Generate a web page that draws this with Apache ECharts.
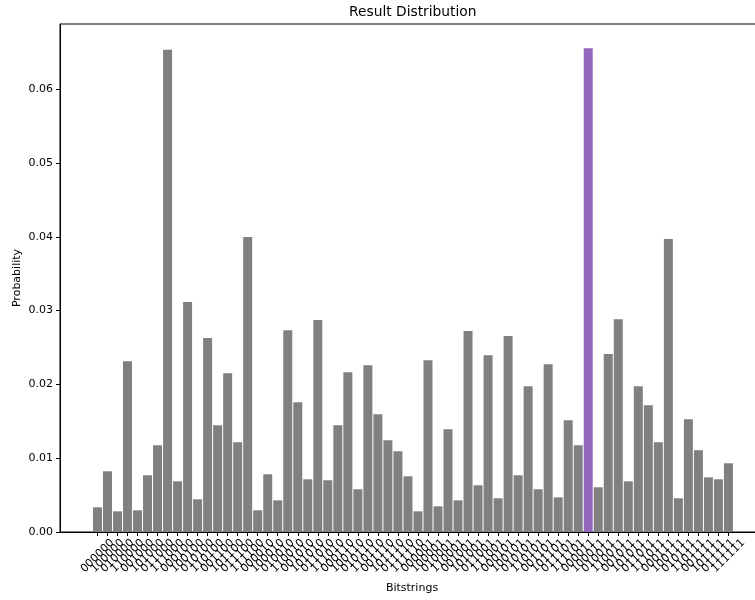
<!DOCTYPE html>
<html>
<head>
<meta charset="utf-8">
<script src="https://cdn.jsdelivr.net/npm/echarts@6/dist/echarts.min.js"></script>
<style>
  html, body { margin: 0; padding: 0; background: #fff; }
  #chart { width: 755px; height: 600px; }
</style>
</head>
<body>
<div id="chart"></div>
<script>
// Measured outcomes, listed in little-endian bitstring order
const bitstrings = [
  '000000', '100000', '010000', '110000', '001000', '101000', '011000', '111000',
  '000100', '100100', '010100', '110100', '001100', '101100', '011100', '111100',
  '000010', '100010', '010010', '110010', '001010', '101010', '011010', '111010',
  '000110', '100110', '010110', '110110', '001110', '101110', '011110', '111110',
  '000001', '100001', '010001', '110001', '001001', '101001', '011001', '111001',
  '000101', '100101', '010101', '110101', '001101', '101101', '011101', '111101',
  '000011', '100011', '010011', '110011', '001011', '101011', '011011', '111011',
  '000111', '100111', '010111', '110111', '001111', '101111', '011111', '111111'
];

const probabilities = [
  0.00335, 0.00823, 0.00280, 0.02315, 0.00294, 0.00769, 0.01175, 0.06533,
  0.00687, 0.03115, 0.00443, 0.02627, 0.01447, 0.02152, 0.01216, 0.03996,
  0.00294, 0.00782, 0.00429, 0.02735, 0.01759, 0.00714, 0.02871, 0.00701,
  0.01447, 0.02165, 0.00579, 0.02260, 0.01596, 0.01243, 0.01094, 0.00755,
  0.00280, 0.02328, 0.00348, 0.01392, 0.00429, 0.02722, 0.00633, 0.02396,
  0.00457, 0.02654, 0.00769, 0.01976, 0.00579, 0.02274, 0.00470, 0.01514,
  0.01175, 0.06555, 0.00606, 0.02410, 0.02884, 0.00687, 0.01976, 0.01718,
  0.01216, 0.03969, 0.00457, 0.01528, 0.01108, 0.00741, 0.00714, 0.00931
];

// The marked outcome is drawn in a different colour
const markedState = '100011';

const yTicks = [0, 0.01, 0.02, 0.03, 0.04, 0.05, 0.06];

const BAR_COLOR = '#808080';
const MARK_COLOR = '#9467bd';
const FONT = 'DejaVu Sans';

// Horizontal limits leave some empty room on both sides of the bars
const xMin = -3.74;
const xMax = 66.55;
const yMax = Math.max(...probabilities) * 1.05;

const barData = bitstrings.map((b, i) => ({
  value: [i, probabilities[i]],
  itemStyle: { color: b === markedState ? MARK_COLOR : BAR_COLOR }
}));

// One tick per bar; the two axis ends are added as blank, hidden entries so
// the automatic first/last label thinning never removes a real bitstring.
const xTickValues = [xMin, ...bitstrings.map((_, i) => i), xMax];

const chart = echarts.init(document.getElementById('chart'), null, { renderer: 'canvas' });

chart.setOption({
  animation: false,
  backgroundColor: '#ffffff',
  textStyle: { fontFamily: FONT },
  title: {
    text: 'Result Distribution',
    left: 349,
    top: 5,
    padding: 0,
    textStyle: { fontFamily: FONT, fontSize: 13.8, fontWeight: 'normal', color: '#000' }
  },
  grid: {
    left: 60,
    top: 24,
    width: 704,
    height: 508,
    // the plot frame runs slightly past the right edge of the canvas
    outerBoundsMode: 'none',
    show: true,
    borderColor: '#000',
    borderWidth: 1,
    backgroundColor: 'transparent'
  },
  xAxis: {
    type: 'value',
    min: xMin,
    max: xMax,
    name: 'Bitstrings',
    nameLocation: 'middle',
    nameGap: 51,
    nameMoveOverlap: false,
    nameTextStyle: { fontFamily: FONT, fontSize: 11, color: '#000', verticalAlign: 'top' },
    axisLine: { show: true, onZero: false, lineStyle: { color: '#000', width: 1 } },
    axisTick: { show: true, length: 4, customValues: xTickValues, lineStyle: { color: '#000' } },
    axisLabel: {
      customValues: xTickValues,
      formatter: v => (Number.isInteger(v) ? bitstrings[v] : ''),
      rotate: 45,
      align: 'center',
      verticalAlign: 'middle',
      margin: 24,
      showMinLabel: false,
      showMaxLabel: false,
      hideOverlap: false,
      fontFamily: FONT,
      fontSize: 11,
      color: '#000'
    },
    splitLine: { show: false }
  },
  yAxis: {
    type: 'value',
    min: 0,
    max: yMax,
    name: 'Probability',
    nameLocation: 'middle',
    nameRotate: 90,
    nameGap: 37,
    nameMoveOverlap: false,
    nameTextStyle: { fontFamily: FONT, fontSize: 11, color: '#000' },
    axisLine: { show: true, onZero: false, lineStyle: { color: '#000', width: 1 } },
    axisTick: { show: true, length: 4, customValues: yTicks, lineStyle: { color: '#000' } },
    axisLabel: {
      customValues: yTicks,
      formatter: v => v.toFixed(2),
      margin: 7,
      fontFamily: FONT,
      fontSize: 11,
      color: '#000'
    },
    splitLine: { show: false }
  },
  series: [{
    type: 'bar',
    data: barData,
    barWidth: 9,
    itemStyle: { color: BAR_COLOR }
  }]
});
</script>
</body>
</html>
